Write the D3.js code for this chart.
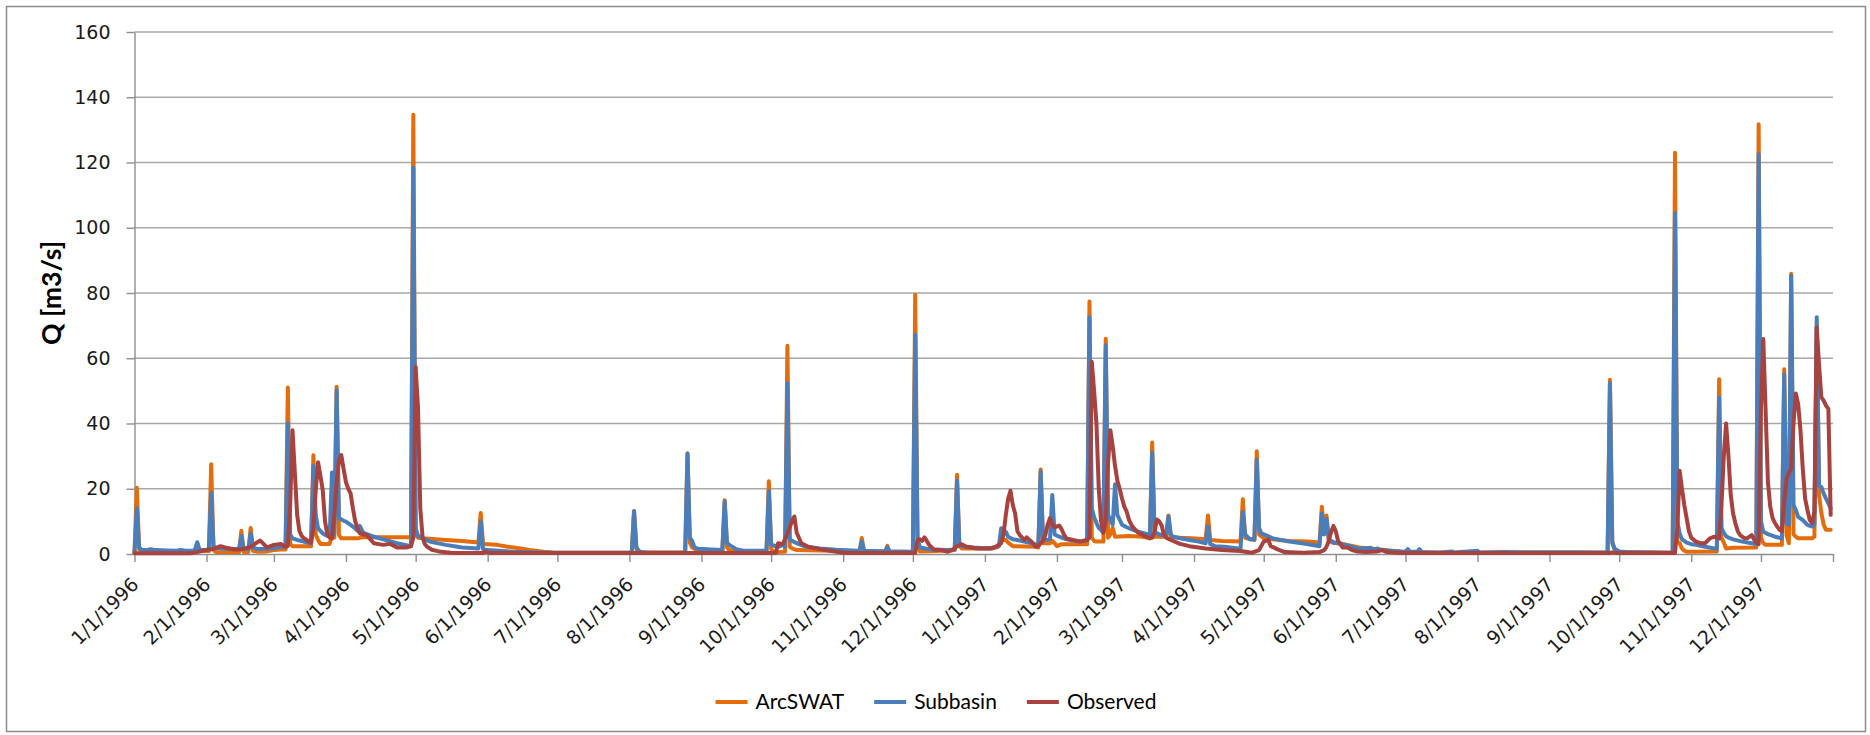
<!DOCTYPE html>
<html>
<head>
<meta charset="utf-8">
<script src="https://cdn.jsdelivr.net/npm/d3@7"></script>
<style>
  html, body { margin: 0; padding: 0; background: #ffffff; }
  svg { display: block; }
</style>
</head>
<body>
<svg id="chart" width="1870" height="735"></svg>
<script>
// Daily discharge, 1/1/1996 - 12/31/1997.
// Each series is a list of [day since 1/1/1996, Q in m3/s] vertices.
const seriesNames = ["ArcSWAT", "Subbasin", "Observed"];
const seriesColors = ["#E46C0A", "#4A7EBB", "#A8423F"];
const yTickValues = [0, 20, 40, 60, 80, 100, 120, 140, 160];

const arcswat = [
  [0,0.5],[1,20.3],[2,1.5],[3,1.0],[10,0.9],[20,0.9],[26,0.9],[27,3.3],[28,1.0],[32,0.9],
  [33,27.5],[34,1.2],[35,0.6],[45,0.5],[46,7.1],[47,0.6],[49,0.6],[50,8.0],[51,1.0],[53,0.7],
  [57,0.8],[60,1.2],[63,1.4],[65,1.4],[66,51.0],[67,3.1],[68,2.4],[76,2.4],[77,30.3],[78,6.0],
  [79,4.3],[80,3.1],[84,3.1],[85,6.0],[86,5.0],[87,51.3],[88,5.8],[89,4.8],[96,4.8],[98,5.1],
  [119,5.1],[120,134.6],[121,6.0],[122,5.0],[124,4.8],[134,4.3],[141,4.0],[148,3.5],[149,12.6],[150,3.1],
  [152,3.0],[156,2.8],[160,2.3],[164,1.9],[170,1.2],[176,0.7],[180,0.45],[190,0.35],[214,0.35],[215,13.2],
  [216,1.5],[217,0.7],[218,0.45],[237,0.45],[238,30.9],[239,3.5],[240,2.0],[242,1.2],[250,1.0],[253,1.0],
  [254,16.5],[255,2.0],[256,1.2],[260,0.9],[272,0.8],[273,22.3],[274,1.5],[275,0.8],[277,0.6],[280,0.7],
  [281,63.8],[282,2.2],[283,1.7],[285,1.2],[300,1.0],[312,0.6],[313,4.9],[314,0.7],[323,0.5],[324,2.5],
  [325,0.5],[335,0.6],[336,79.5],[337,3.0],[338,0.8],[345,0.9],[353,1.2],[354,24.3],[355,2.5],[356,1.7],
  [365,1.7],[371,2.0],[372,2.4],[373,4.3],[375,4.3],[376,3.5],[378,2.4],[388,2.2],[389,2.0],[390,25.9],
  [391,3.3],[394,3.3],[395,4.0],[396,3.3],[397,2.4],[399,3.0],[410,3.0],[411,77.4],[412,5.0],[413,4.0],
  [414,3.8],[417,3.8],[418,66.0],[419,5.0],[420,6.0],[421,8.0],[422,5.3],[428,5.5],[434,5.3],[437,4.8],
  [438,34.2],[439,5.3],[444,5.3],[445,11.8],[446,5.3],[450,5.0],[455,4.8],[461,4.5],[462,11.8],[463,4.3],
  [468,4.0],[476,3.8],[477,16.8],[478,5.0],[482,4.3],[483,31.5],[484,6.0],[486,4.8],[497,4.0],[505,3.8],
  [510,3.5],[511,14.5],[512,7.0],[513,11.8],[514,4.0],[516,3.4],[519,3.2],[524,2.5],[527,2.0],[533,1.6],
  [540,1.1],[545,0.8],[550,0.6],[556,0.45],[600,0.35],[634,0.35],[635,53.4],[636,3.3],[637,1.5],[639,0.7],
  [642,0.5],[662,0.4],[663,123.0],[664,4.0],[665,3.3],[666,1.7],[667,1.0],[668,0.7],[681,0.8],[682,53.6],
  [683,5.0],[684,3.5],[685,1.7],[688,1.9],[698,2.0],[699,131.7],[700,5.0],[701,3.3],[702,2.8],[709,2.8],
  [710,56.6],[711,5.8],[712,3.3],[713,85.9],[714,6.0],[715,5.3],[716,4.8],[722,4.8],[723,5.3],[724,70.0],
  [725,18.0],[726,12.5],[727,8.9],[728,7.4],[730,7.4]
];

const subbasin = [
  [0,0.5],[1,14.0],[2,2.0],[3,1.3],[5,1.2],[7,1.5],[9,1.2],[14,1.1],[18,1.0],[20,1.2],
  [22,1.0],[25,1.0],[26,1.2],[27,3.6],[28,1.3],[30,1.2],[32,1.5],[33,18.6],[34,2.5],[35,1.8],
  [40,1.5],[45,1.5],[46,5.5],[47,1.5],[49,1.5],[50,6.3],[51,2.0],[53,1.5],[57,1.6],[60,1.8],
  [63,2.2],[65,2.2],[66,40.0],[67,6.0],[68,4.8],[70,4.3],[72,4.0],[74,3.6],[76,3.3],[77,27.0],
  [78,12.0],[79,7.9],[81,6.3],[83,5.5],[84,5.5],[85,25.0],[86,6.0],[87,50.2],[88,11.0],[90,10.2],
  [91,9.9],[94,8.4],[96,7.1],[97,8.6],[98,7.0],[99,6.3],[103,5.3],[107,4.5],[113,3.3],[119,2.4],
  [120,118.4],[121,8.0],[122,5.5],[123,5.3],[127,3.8],[134,2.8],[141,2.0],[148,1.7],[149,9.9],[150,1.5],
  [152,1.2],[163,0.7],[171,0.5],[180,0.4],[214,0.4],[215,13.1],[216,2.0],[217,1.0],[218,0.6],[222,0.4],
  [237,0.4],[238,30.7],[239,5.0],[240,4.0],[241,2.0],[243,1.5],[245,1.5],[248,1.4],[253,1.2],[254,16.1],
  [255,3.5],[256,2.8],[259,1.5],[262,1.0],[272,1.0],[273,19.3],[274,3.0],[275,2.6],[277,2.2],[279,2.8],
  [280,2.2],[281,52.3],[282,4.4],[285,3.3],[289,2.2],[295,1.7],[302,1.3],[311,1.0],[312,0.9],[313,3.8],
  [314,1.0],[323,0.85],[324,2.0],[325,0.85],[335,0.7],[336,67.2],[337,5.0],[338,2.0],[341,1.6],[343,1.4],
  [350,1.2],[353,1.4],[354,22.5],[355,3.0],[356,2.4],[361,2.0],[368,1.7],[372,2.4],[373,7.9],[374,7.0],
  [375,6.8],[376,5.3],[378,4.5],[380,4.3],[383,3.8],[387,3.1],[389,2.8],[390,25.2],[391,4.5],[393,4.3],
  [394,4.6],[395,18.1],[396,6.0],[398,5.3],[401,4.5],[404,4.1],[407,3.8],[410,4.3],[411,72.6],[412,14.0],
  [413,11.3],[414,9.5],[415,8.0],[416,7.3],[417,6.5],[418,64.0],[419,12.0],[420,10.4],[421,9.0],[422,21.4],
  [423,12.0],[424,10.5],[425,9.0],[427,8.2],[429,7.6],[432,6.8],[436,6.1],[437,5.8],[438,31.0],[439,7.0],
  [440,6.3],[442,5.8],[444,6.0],[445,11.5],[446,6.0],[447,5.3],[450,4.8],[454,4.3],[458,3.8],[461,3.3],
  [462,8.4],[463,3.0],[465,2.4],[469,2.2],[476,1.6],[477,12.9],[478,6.0],[480,4.5],[482,4.5],[483,28.9],
  [484,8.0],[485,6.3],[490,4.8],[497,3.8],[504,3.1],[510,2.4],[511,12.4],[512,6.0],[513,10.8],[514,4.5],
  [516,3.6],[519,3.1],[522,2.6],[526,1.7],[529,1.7],[532,1.9],[533,1.2],[535,1.7],[536,1.2],[540,1.0],
  [547,0.6],[548,1.5],[549,0.7],[552,0.7],[553,1.5],[554,0.6],[562,0.45],[567,0.8],[568,0.45],[578,1.0],
  [579,0.45],[589,0.6],[598,0.5],[620,0.5],[634,0.45],[635,52.3],[636,3.8],[637,1.6],[639,0.8],[642,0.6],
  [662,0.4],[663,104.5],[664,10.0],[665,6.3],[666,4.5],[667,4.0],[668,3.5],[670,3.0],[672,2.8],[676,2.2],
  [680,1.7],[681,1.6],[682,48.0],[683,8.0],[684,6.5],[685,5.5],[686,5.0],[688,4.5],[692,3.8],[696,3.3],
  [698,3.0],[699,122.6],[700,10.0],[701,6.8],[703,6.1],[706,5.3],[709,4.8],[710,55.0],[711,9.4],[712,8.9],
  [713,85.3],[714,15.0],[715,13.5],[716,11.4],[718,10.4],[720,8.9],[722,8.4],[723,9.0],[724,72.6],[725,21.0],
  [726,20.6],[727,18.5],[728,17.0],[729,15.5],[730,14.0]
];

const observed = [
  [0,0.2],[24,0.2],[27,0.6],[31,1.2],[34,1.6],[37,2.4],[39,2.0],[41,1.7],[43,1.4],[46,1.4],
  [48,1.8],[50,2.2],[52,3.2],[54,4.1],[55,3.5],[57,2.0],[60,2.8],[63,3.1],[65,2.2],[66,2.5],
  [67,15.0],[68,37.9],[69,25.0],[70,12.0],[71,7.0],[72,5.5],[73,4.8],[74,4.3],[75,3.8],[76,3.5],
  [77,8.0],[78,19.6],[79,28.1],[80,24.0],[81,19.6],[82,10.0],[83,6.0],[84,5.0],[85,4.8],[86,12.0],
  [87,22.0],[88,28.8],[89,30.3],[90,26.0],[91,22.0],[92,20.0],[93,18.6],[94,14.0],[95,10.0],[96,7.9],
  [97,6.3],[99,6.0],[100,5.8],[103,3.3],[107,2.8],[110,3.1],[113,2.0],[117,2.0],[119,2.4],[120,5.0],
  [121,57.3],[122,45.0],[123,14.0],[124,5.0],[125,3.0],[126,2.2],[128,1.3],[131,0.8],[136,0.4],[140,0.3],
  [150,0.3],[151,0.8],[153,0.3],[275,0.3],[276,0.4],[277,3.3],[279,3.0],[281,6.2],[283,10.2],[284,11.5],
  [285,6.5],[287,3.3],[290,2.2],[295,1.5],[300,0.9],[305,0.4],[308,0.3],[336,0.3],[337,4.3],[338,4.5],
  [339,4.0],[340,5.1],[341,4.0],[342,2.8],[344,1.4],[347,1.2],[350,0.7],[352,1.2],[354,2.4],[356,3.0],
  [358,2.2],[363,1.7],[369,1.7],[371,2.4],[373,3.3],[374,6.0],[375,12.0],[376,17.0],[377,19.4],[378,15.0],
  [379,12.4],[380,7.0],[381,5.8],[383,4.3],[384,5.1],[386,3.8],[388,2.2],[389,2.5],[391,4.0],[392,5.8],
  [393,9.0],[394,11.0],[395,9.0],[396,8.2],[398,8.7],[399,7.6],[400,6.0],[401,4.8],[404,4.3],[407,3.8],
  [410,4.3],[411,5.0],[412,58.9],[413,50.0],[414,40.0],[415,20.0],[416,10.0],[417,6.5],[418,10.0],[419,28.0],
  [420,37.9],[421,33.0],[422,27.0],[423,22.5],[424,20.0],[425,17.0],[426,14.5],[427,13.0],[428,10.5],[429,9.0],
  [430,8.0],[432,6.5],[434,5.8],[436,5.2],[437,4.8],[438,5.0],[439,6.8],[440,10.6],[441,10.0],[442,8.9],
  [443,6.0],[444,5.0],[446,4.3],[450,3.1],[454,2.4],[461,1.7],[468,1.2],[476,0.9],[481,0.4],[484,1.2],
  [486,3.8],[488,4.3],[489,2.4],[492,1.4],[495,0.6],[503,0.4],[510,0.6],[512,1.2],[513,2.2],[514,4.0],
  [515,6.8],[516,8.6],[517,7.0],[518,4.0],[519,3.0],[520,2.0],[522,2.0],[524,1.2],[526,0.8],[530,0.6],
  [535,0.8],[537,1.2],[539,0.6],[545,0.3],[635,0.3],[636,0.5],[638,0.3],[663,0.3],[664,8.0],[665,25.5],
  [666,20.0],[667,15.0],[668,11.0],[669,7.0],[670,5.0],[672,3.8],[674,3.3],[676,3.3],[678,4.8],[680,5.3],
  [681,5.0],[682,4.8],[683,15.0],[684,30.0],[685,40.0],[686,30.0],[687,18.0],[688,12.4],[689,9.4],[690,7.0],
  [691,5.8],[693,4.8],[694,4.8],[696,5.8],[697,4.5],[698,3.5],[699,3.0],[700,45.0],[701,65.9],[702,44.0],
  [703,22.0],[704,14.5],[705,11.0],[706,9.5],[707,8.4],[708,7.4],[709,7.0],[710,16.0],[711,23.0],[712,25.0],
  [713,26.0],[714,40.0],[715,49.2],[716,46.0],[717,38.0],[718,26.0],[719,17.0],[720,13.5],[721,10.4],[722,9.5],
  [723,13.0],[724,69.4],[725,58.0],[726,48.0],[727,47.0],[728,45.5],[729,44.5],[730,12.0]
];

// ---- layout ----
const W = 1870, H = 735;
const plot = { left: 134.5, right: 1833, top: 32, bottom: 554 };
const tickFont = "'DejaVu Sans', Verdana, sans-serif";
const textFont = "Lato, 'Open Sans', sans-serif";

const day0 = new Date(1996, 0, 1);
const toDate = d => d3.timeDay.offset(day0, d);

const x = d3.scaleTime()
  .domain([day0, new Date(1998, 0, 1)])
  .range([plot.left, plot.right]);
const y = d3.scaleLinear()
  .domain([0, 160])
  .range([plot.bottom, plot.top]);

const svg = d3.select("#chart");

// chart area border
svg.append("rect")
  .attr("x", 6.5).attr("y", 6.5)
  .attr("width", W - 11).attr("height", H - 10)
  .attr("fill", "#ffffff")
  .attr("stroke", "#8c8c8c")
  .attr("stroke-width", 1.5);

// horizontal gridlines
svg.append("g")
  .selectAll("line")
  .data(yTickValues.filter(v => v > 0))
  .join("line")
  .attr("x1", plot.left).attr("x2", plot.right)
  .attr("y1", d => y(d)).attr("y2", d => y(d))
  .attr("stroke", "#a8a8a8")
  .attr("stroke-width", 1.4);

// y axis
const yAxis = svg.append("g")
  .attr("transform", `translate(${plot.left},0)`)
  .call(d3.axisLeft(y).tickValues(yTickValues).tickSizeInner(8).tickSizeOuter(0).tickPadding(16));
yAxis.select(".domain").attr("stroke", "#8e8e8e").attr("stroke-width", 1.4);
yAxis.selectAll(".tick line").attr("stroke", "#8e8e8e").attr("stroke-width", 1.4);
yAxis.selectAll(".tick text")
  .attr("font-family", tickFont)
  .attr("font-size", 19)
  .attr("fill", "#1a1a1a");

// x axis: monthly ticks, last one (1/1/1998) without a label
const monthTicks = d3.timeMonth.range(day0, new Date(1998, 0, 2));
const fmt = d3.timeFormat("%-m/%-d/%Y");
const xAxis = svg.append("g")
  .attr("transform", `translate(0,${plot.bottom})`)
  .call(d3.axisBottom(x).tickValues(monthTicks).tickSizeInner(8).tickSizeOuter(0)
    .tickFormat(d => d.getFullYear() >= 1998 ? "" : fmt(d)));
xAxis.select(".domain").attr("stroke", "#8e8e8e").attr("stroke-width", 1.4);
xAxis.selectAll(".tick line").attr("stroke", "#8e8e8e").attr("stroke-width", 1.4);
xAxis.selectAll(".tick text")
  .attr("font-family", tickFont)
  .attr("font-size", 19)
  .attr("fill", "#1a1a1a")
  .attr("text-anchor", "end")
  .attr("y", 0).attr("dy", "0.35em")
  .attr("transform", "translate(0,27) rotate(-45)");

// y axis title
svg.append("text")
  .attr("transform", "translate(52,293) rotate(-90)")
  .attr("text-anchor", "middle")
  .attr("dy", "0.35em")
  .attr("font-family", textFont)
  .attr("font-weight", "bold")
  .attr("font-size", 26)
  .attr("textLength", 104)
  .attr("lengthAdjust", "spacingAndGlyphs")
  .attr("fill", "#000000")
  .text("Q [m3/s]");

// series lines
const line = d3.line()
  .x(d => x(toDate(d[0])))
  .y(d => y(d[1]));

const seriesData = [arcswat, subbasin, observed];
svg.append("g")
  .selectAll("path")
  .data(seriesData)
  .join("path")
  .attr("d", d => line(d))
  .attr("fill", "none")
  .attr("stroke", (d, i) => seriesColors[i])
  .attr("stroke-width", 4)
  .attr("stroke-linejoin", "round")
  .attr("stroke-linecap", "round");

// legend, centred under the plot
const legend = svg.append("g");
const legendY = 702;
const swatch = 32, swatchGap = 8, itemGap = 30;
const items = legend.selectAll("g")
  .data(seriesNames)
  .join("g");
items.append("line")
  .attr("x1", 0).attr("x2", swatch)
  .attr("y1", 0).attr("y2", 0)
  .attr("stroke", (d, i) => seriesColors[i])
  .attr("stroke-width", 4);
items.append("text")
  .attr("x", swatch + swatchGap)
  .attr("dy", "0.35em")
  .attr("font-family", textFont)
  .attr("font-size", 21)
  .attr("fill", "#000000")
  .text(d => d);
let offset = 0;
const widths = [];
items.each(function () {
  const w = swatch + swatchGap + this.querySelector("text").getComputedTextLength();
  widths.push(w);
});
const total = d3.sum(widths) + itemGap * (widths.length - 1);
const startX = 936 - total / 2;
items.attr("transform", (d, i) => {
  const tx = startX + offset;
  offset += widths[i] + itemGap;
  return `translate(${tx},${legendY})`;
});
</script>
</body>
</html>
